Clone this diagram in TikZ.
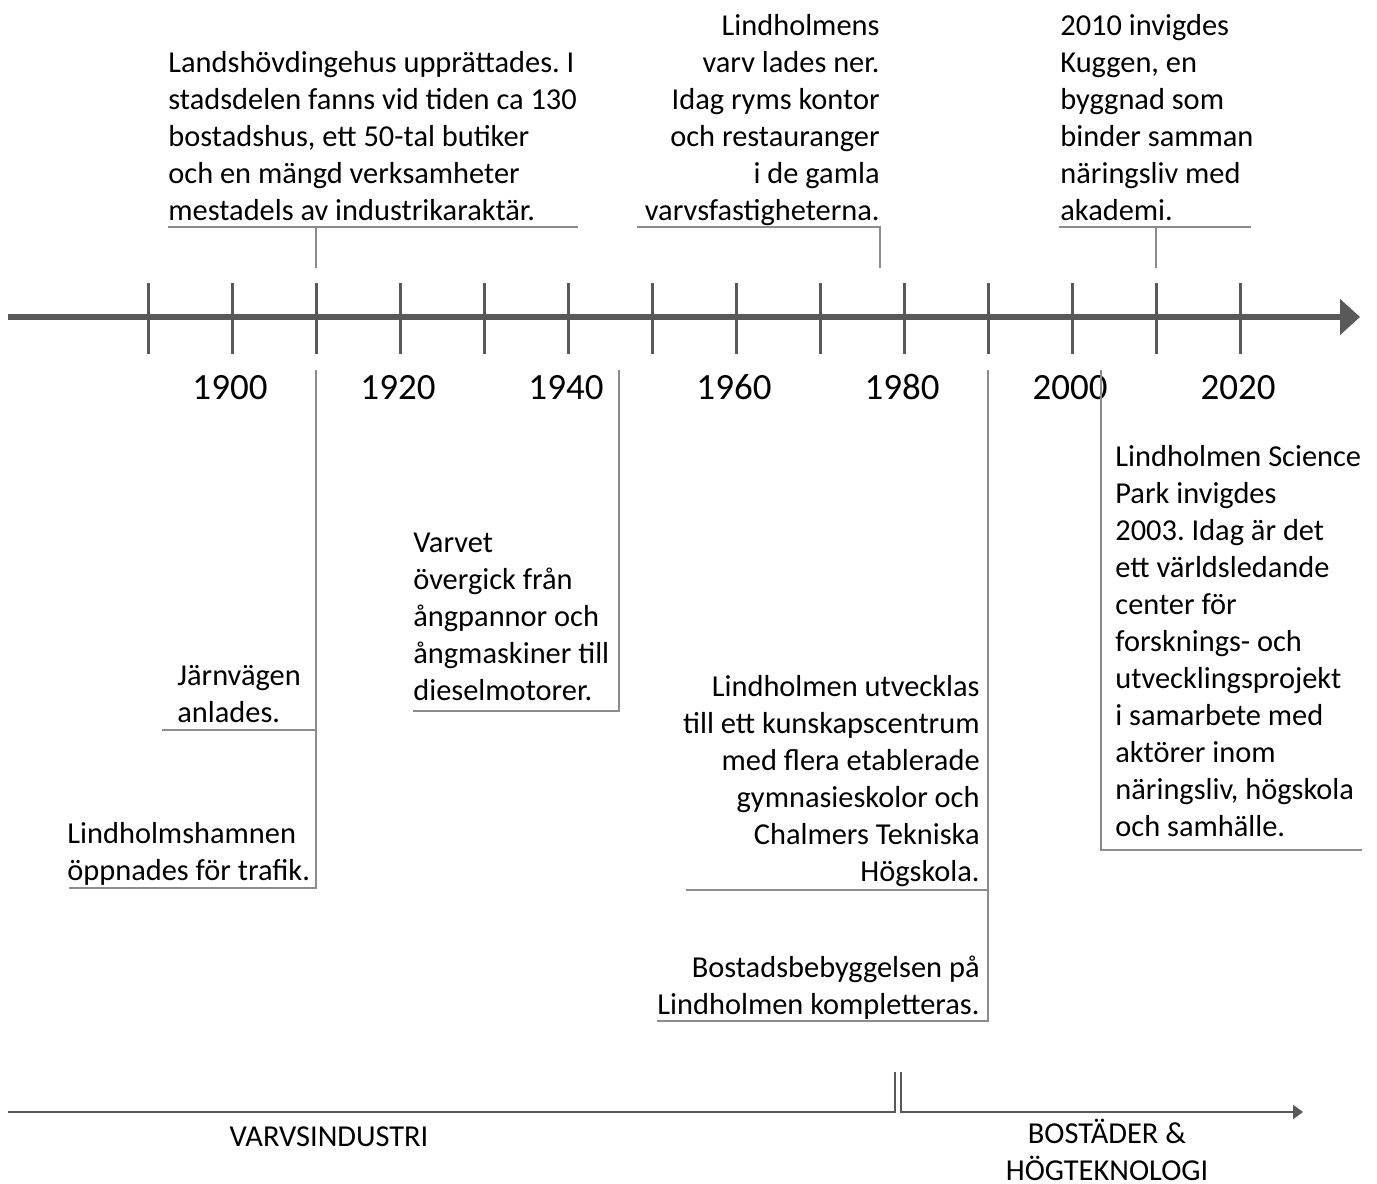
\documentclass[tikz,border=0pt]{standalone}
\usepackage{fontspec}
\setmainfont{Carlito}
\usetikzlibrary{arrows.meta,positioning}
\definecolor{axisgray}{HTML}{595959}
\definecolor{leadgray}{HTML}{8C8C8C}
\frenchspacing

\begin{document}
\begin{tikzpicture}[
  x=0.5pt, y=-0.5pt,
  note/.style={font=\fontsize{15.2}{18.5}\selectfont, inner sep=0pt},
  year/.style={font=\fontsize{18.5}{22}\selectfont, inner sep=0pt, anchor=base},
  lead/.style={draw=leadgray, line width=0.6pt},
  axisline/.style={draw=axisgray, line width=3pt, -{Triangle[length=10pt,width=17.5pt]}},
  tickline/.style={draw=axisgray, line width=1.5pt},
  era/.style={draw=axisgray, line width=1pt}
]
\useasboundingbox (0,0) rectangle (1377,1184);

% time axis
\draw[axisline] (8,317) -- (1360,317);
\foreach \i in {0,...,13}
  \draw[tickline] ({148+84*\i},283) -- ({148+84*\i},354);
\foreach \yr [count=\k from 0] in {1900,1920,1940,1960,1980,2000,2020}
  \node[year] (y\yr) at ({230+168*\k},399) {\yr};

% notes above the axis
\node[note, anchor=base west, align=left] (housing) at (168,220)
  {Landshövdingehus upprättades. I\\stadsdelen fanns vid tiden ca 130\\bostadshus, ett 50-tal butiker\\och en mängd verksamheter\\mestadels av industrikaraktär.};
\node[note, anchor=base east, align=right] (yard) at (880,220)
  {Lindholmens\\varv lades ner.\\Idag ryms kontor\\och restauranger\\i de gamla\\varvsfastigheterna.};
\node[note, anchor=base west, align=left] (kuggen) at (1060,220)
  {2010 invigdes\\Kuggen, en\\byggnad som\\binder samman\\näringsliv med\\akademi.};

\draw[lead] (168,227) -- (578,227);
\draw[lead] (316,227) -- (316,268);
\draw[lead] (637,227) -- (880,227) -- (880,268);
\draw[lead] (1059,227) -- (1251,227);
\draw[lead] (1156,227) -- (1156,268);

% notes below the axis
\node[note, anchor=base west, align=left] (railway) at (177,722)
  {Järnvägen\\anlades.};
\node[note, anchor=base west, align=left] (harbour) at (67,880)
  {Lindholmshamnen\\öppnades för trafik.};
\node[note, anchor=base west, align=left] (diesel) at (413,700)
  {Varvet\\övergick från\\ångpannor och\\ångmaskiner till\\dieselmotorer.};
\node[note, anchor=base east, align=right] (campus) at (980,881)
  {Lindholmen utvecklas\\till ett kunskapscentrum\\med flera etablerade\\gymnasieskolor och\\Chalmers Tekniska\\Högskola.};
\node[note, anchor=base east, align=right] (homes) at (980,1014)
  {Bostadsbebyggelsen på\\Lindholmen kompletteras.};
\node[note, anchor=base west, align=left] (science) at (1115,836)
  {Lindholmen Science\\Park invigdes\\2003. Idag är det\\ett världsledande\\center för\\forsknings- och\\utvecklingsprojekt\\i samarbete med\\aktörer inom\\näringsliv, högskola\\och samhälle.};

\draw[lead] (316,370) -- (316,888) -- (69,888);
\draw[lead] (162,730) -- (316,730);
\draw[lead] (619,370) -- (619,711) -- (413,711);
\draw[lead] (988,370) -- (988,1021) -- (657,1021);
\draw[lead] (686,890) -- (988,890);
\draw[lead] (1101,370) -- (1101,850) -- (1362,850);

% eras
\draw[era] (8,1112) -- (895,1112) -- (895,1072);
\draw[era, -{Triangle[length=5pt,width=7pt]}] (901,1072) -- (901,1112) -- (1303,1112);
\node[note, anchor=base] (shipind) at (329,1146) {VARVSINDUSTRI};
\node[note, anchor=base, align=center] (hightech) at (1107,1180) {BOSTÄDER \&\\HÖGTEKNOLOGI};
\end{tikzpicture}
\end{document}
